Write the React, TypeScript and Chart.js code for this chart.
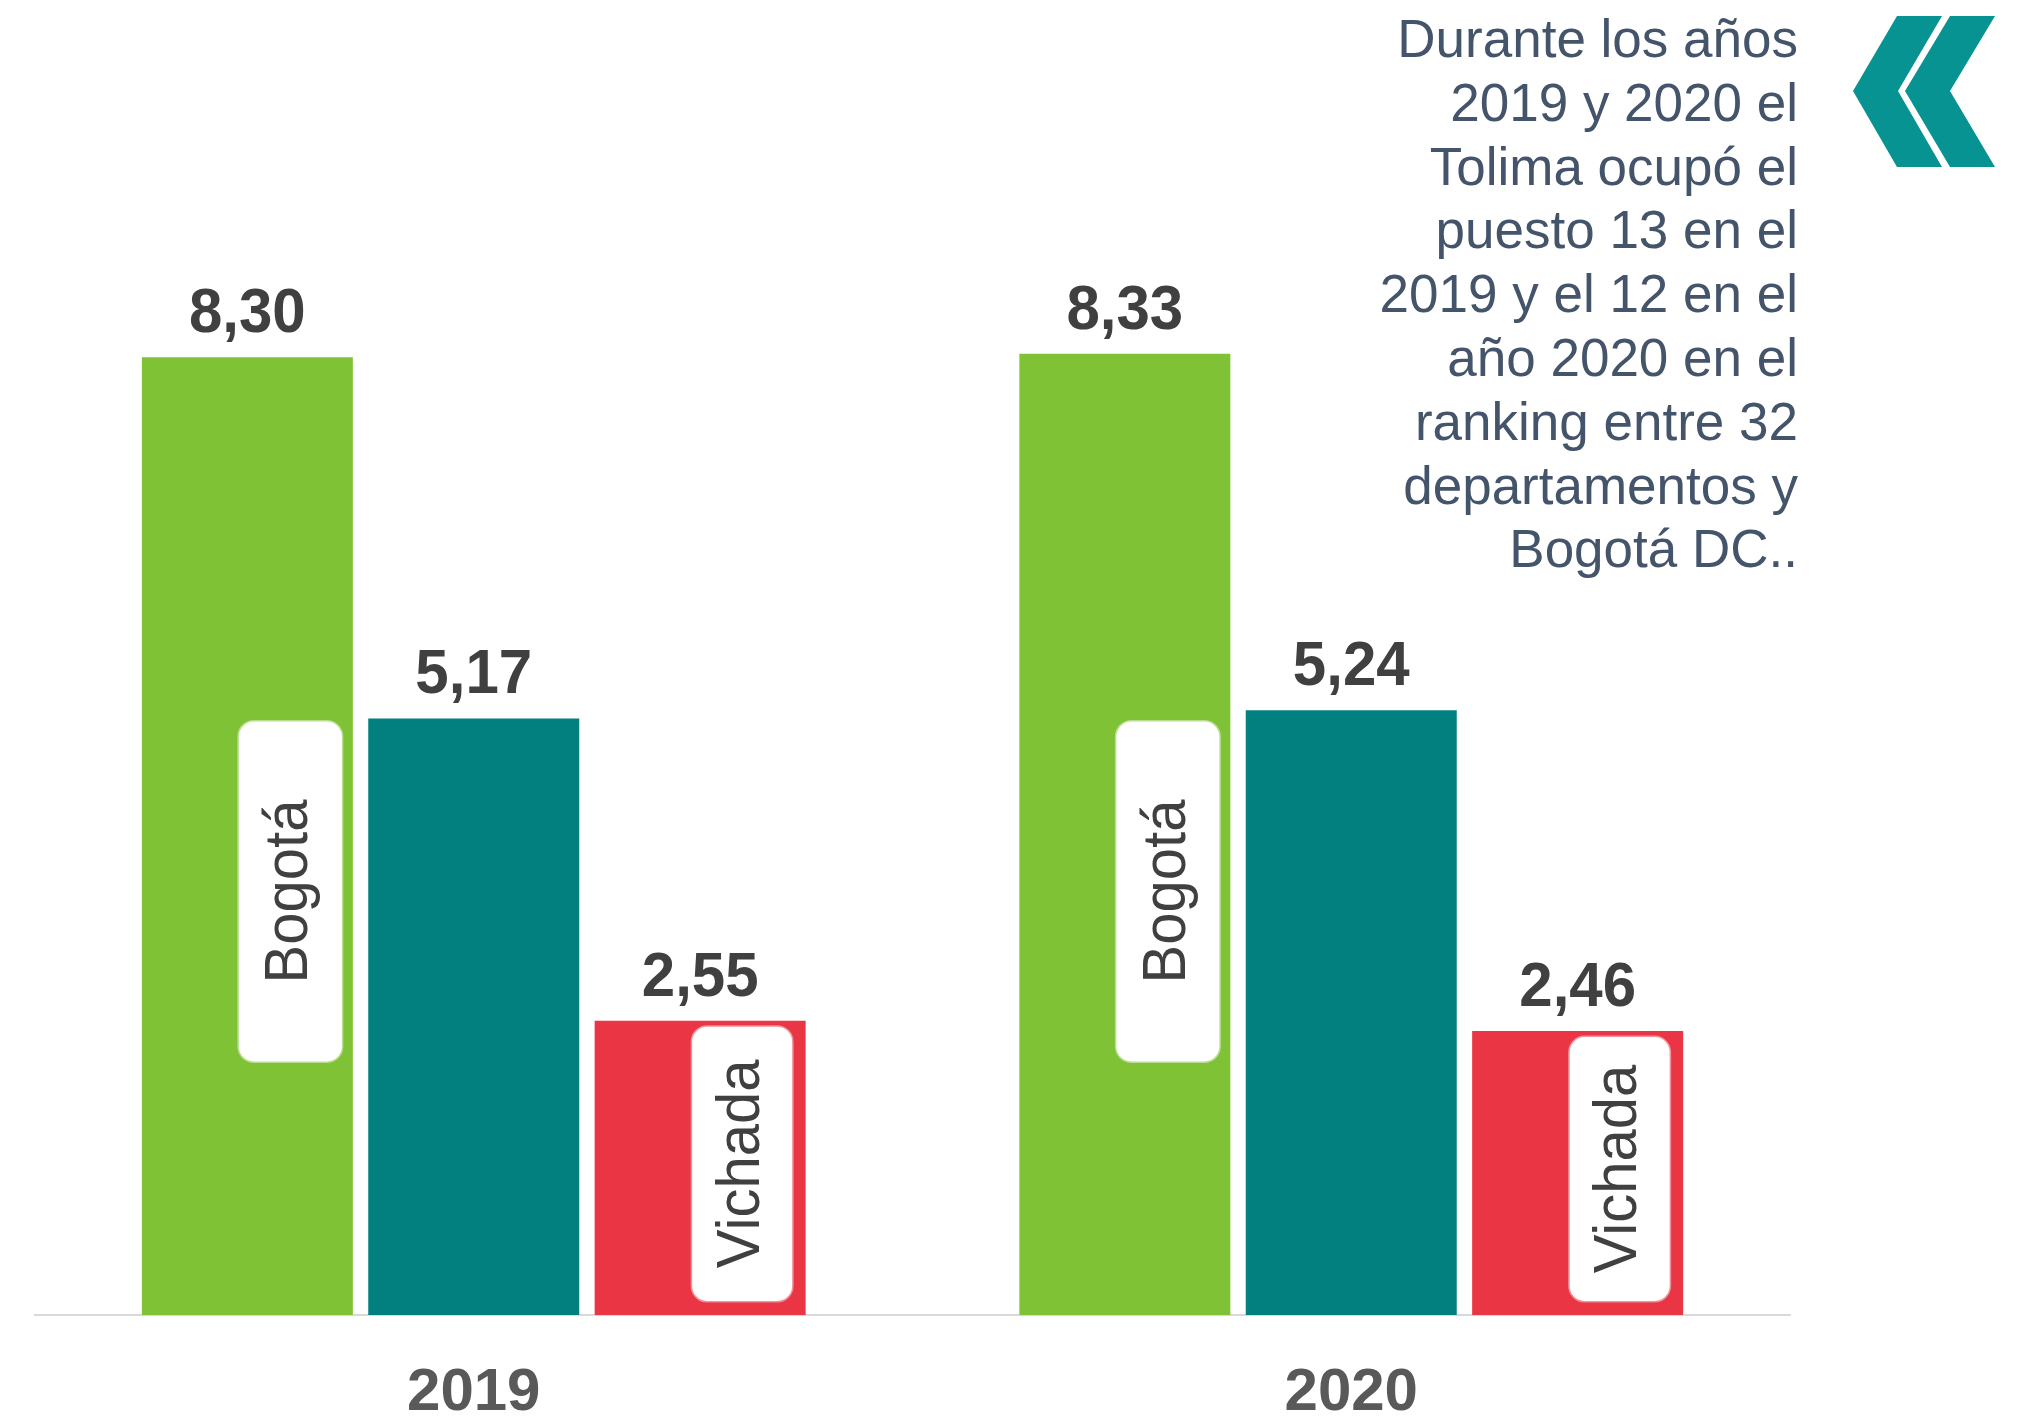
import React, { useEffect, useRef } from "react";
import { Chart, registerables } from "chart.js";

Chart.register(...registerables);

// ---- Data ----
const categories: string[] = ["2019", "2020"];
const seriesNames: string[] = ["Bogotá", "Tolima", "Vichada"];
const bogotaValues: number[] = [8.3, 8.33];
const tolimaValues: number[] = [5.17, 5.24];
const vichadaValues: number[] = [2.55, 2.46];
const seriesColors: string[] = ["#80C235", "#01807F", "#EA3544"];

const noteLines: string[] = [
  "Durante los años",
  "2019 y 2020 el",
  "Tolima ocupó el",
  "puesto 13 en el",
  "2019 y el 12 en el",
  "año 2020 en el",
  "ranking entre 32",
  "departamentos y",
  "Bogotá DC..",
];

const FONT = '"Liberation Sans", Arial, sans-serif';

const fmt = (v: number) => v.toFixed(2).replace(".", ",");

function roundRectPath(ctx: CanvasRenderingContext2D, x: number, y: number, w: number, h: number, r: number) {
  ctx.beginPath();
  ctx.moveTo(x + r, y);
  ctx.lineTo(x + w - r, y);
  ctx.arcTo(x + w, y, x + w, y + r, r);
  ctx.lineTo(x + w, y + h - r);
  ctx.arcTo(x + w, y + h, x + w - r, y + h, r);
  ctx.lineTo(x + r, y + h);
  ctx.arcTo(x, y + h, x, y + h - r, r);
  ctx.lineTo(x, y + r);
  ctx.arcTo(x, y, x + r, y, r);
  ctx.closePath();
}

const barLabelsPlugin = {
  id: "barLabels",
  afterDatasetsDraw(chart: any) {
    const ctx: CanvasRenderingContext2D = chart.ctx;
    const yScale = chart.scales.y;
    const base = yScale.getPixelForValue(0);

    // value labels above bars
    chart.data.datasets.forEach((ds: any, di: number) => {
      const meta = chart.getDatasetMeta(di);
      meta.data.forEach((bar: any, i: number) => {
        ctx.save();
        ctx.translate(bar.x, bar.y - 25);
        ctx.scale(1, 1.05);
        ctx.font = `bold 60px ${FONT}`;
        ctx.fillStyle = "#404040";
        ctx.textAlign = "center";
        ctx.textBaseline = "alphabetic";
        ctx.fillText(fmt(ds.data[i]), 0, 0);
        ctx.restore();
      });
    });

    // series name tags inside bars
    const tags = [
      { dataset: 0, dx: 43, width: 103, centerValue: 3.67, height: 340 },
      { dataset: 2, dx: 42, width: 100, topInset: 6, bottomInset: 14 },
    ];
    tags.forEach((t: any) => {
      const meta = chart.getDatasetMeta(t.dataset);
      const label = chart.data.datasets[t.dataset].label;
      meta.data.forEach((bar: any) => {
        const cx = bar.x + t.dx;
        let top: number;
        let bottom: number;
        if (t.centerValue !== undefined) {
          const cy = yScale.getPixelForValue(t.centerValue);
          top = cy - t.height / 2;
          bottom = cy + t.height / 2;
        } else {
          top = bar.y + t.topInset;
          bottom = base - t.bottomInset;
        }
        const h = bottom - top;
        const x = cx - t.width / 2;
        ctx.save();
        roundRectPath(ctx, x, top, t.width, h, 15);
        ctx.fillStyle = "#FFFFFF";
        ctx.fill();
        ctx.lineWidth = 3;
        ctx.strokeStyle = "rgba(255,255,255,0.45)";
        ctx.stroke();
        ctx.translate(cx, top + h / 2);
        ctx.rotate(-Math.PI / 2);
        ctx.scale(1, 1.05);
        ctx.font = `58px ${FONT}`;
        ctx.fillStyle = "#404040";
        ctx.textAlign = "center";
        ctx.textBaseline = "middle";
        ctx.fillText(label, 0, 0);
        ctx.restore();
      });
    });
  },
};

function App() {
  const canvasRef = useRef<HTMLCanvasElement | null>(null);

  useEffect(() => {
    if (!canvasRef.current) return;
    const seriesValues = [bogotaValues, tolimaValues, vichadaValues];
    const chart = new Chart(canvasRef.current, {
      type: "bar",
      data: {
        labels: categories,
        datasets: seriesNames.map((name, i) => ({
          label: name,
          data: seriesValues[i],
          backgroundColor: seriesColors[i],
          borderWidth: 0,
          categoryPercentage: 0.774,
          barPercentage: 0.932,
        })),
      },
      options: {
        responsive: false,
        animation: false,
        devicePixelRatio: 1,
        layout: { padding: { left: 35, right: 230, top: 161, bottom: 0 } },
        plugins: {
          legend: { display: false },
          tooltip: { enabled: false },
          title: { display: false },
        },
        scales: {
          x: {
            grid: { display: false, drawTicks: false },
            border: { display: true, color: "#D9D9D9", width: 2 },
            ticks: {
              color: "#595959",
              font: { family: FONT, size: 60, weight: "bold", lineHeight: 1 },
              padding: 48,
              maxRotation: 0,
              autoSkip: false,
            },
            afterFit: (scale: any) => {
              scale.height = 103;
            },
          },
          y: {
            display: false,
            min: 0,
            max: 10,
          },
        },
      },
      plugins: [barLabelsPlugin],
    });
    return () => chart.destroy();
  }, []);

  return (
    <div style={{ position: "absolute", left: 0, top: 0, width: 2020, height: 1418, background: "#FFFFFF", overflow: "hidden" }}>
      <canvas ref={canvasRef} width={2020} height={1418} style={{ position: "absolute", left: 0, top: 0, width: 2020, height: 1418 }} />
      <div
        style={{
          position: "absolute",
          right: 222,
          top: 7,
          textAlign: "right",
          fontFamily: FONT,
          fontSize: 53,
          lineHeight: "63.8px",
          color: "#44546A",
          whiteSpace: "nowrap",
        }}
      >
        {noteLines.map((line, i) => (
          <div key={i}>{line}</div>
        ))}
      </div>
      <svg
        width={2020}
        height={1418}
        style={{ position: "absolute", left: 0, top: 0, pointerEvents: "none" }}
      >
        <polygon points="1897,16 1942,16 1898,91 1942,167 1897,167 1853,91" fill="#079391" />
        <polygon points="1950,16 1995,16 1950,91 1995,167 1950,167 1905,91" fill="#079391" />
      </svg>
    </div>
  );
}

export default App;
